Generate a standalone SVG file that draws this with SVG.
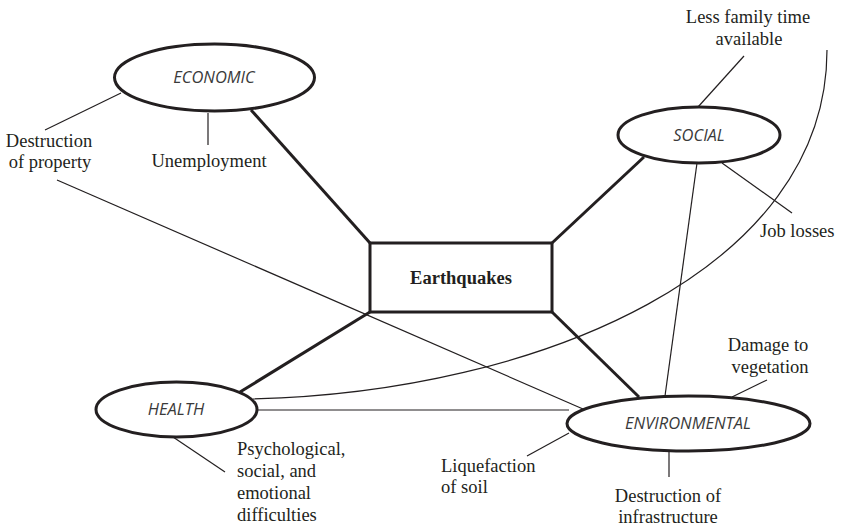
<svg xmlns="http://www.w3.org/2000/svg" width="842" height="526" viewBox="0 0 842 526">
<style>
.thick{stroke:#231f20;stroke-width:3;fill:none}
.thin{stroke:#231f20;stroke-width:1.2;fill:none}
.node{stroke:#231f20;stroke-width:3;fill:#fff}
.lbl{font-family:"Liberation Serif","Times New Roman",serif;font-size:18.5px;fill:#231f20}
.cat{font-family:"Open Sans","Noto Sans",sans-serif;font-style:italic;font-size:16.5px;fill:#3a3a3a;text-anchor:middle}
.mid{text-anchor:middle}
</style>
<rect width="842" height="526" fill="#fff"/>
<g id="connectors">
<path class="thin" d="M253,399 C540,392 827,270 827,50"/>
<line class="thin" x1="57" y1="180" x2="583" y2="409"/>
<line class="thin" x1="257" y1="410" x2="569" y2="410"/>
<line class="thin" x1="697" y1="163" x2="665" y2="396"/>
<line class="thick" x1="251" y1="110" x2="370" y2="243"/>
<line class="thick" x1="644" y1="157" x2="552" y2="243"/>
<line class="thick" x1="370" y1="312" x2="240" y2="392"/>
<line class="thick" x1="552" y1="312" x2="639" y2="397"/>
<line class="thin" x1="121" y1="93" x2="45" y2="130"/>
<line class="thin" x1="208" y1="113" x2="208" y2="145"/>
<line class="thin" x1="698" y1="107" x2="744" y2="56"/>
<line class="thin" x1="722" y1="163" x2="792" y2="213"/>
<line class="thin" x1="173" y1="437" x2="225" y2="472"/>
<line class="thin" x1="732" y1="397" x2="767" y2="380"/>
<line class="thin" x1="569" y1="433" x2="527" y2="456"/>
<line class="thin" x1="669" y1="451" x2="669" y2="477"/>
</g>
<g id="earthquakes">
<rect class="node" x="370" y="243" width="182" height="69"/>
<text class="lbl mid" x="461" y="284" font-weight="bold">Earthquakes</text>
</g>
<g id="economic">
<ellipse class="node" cx="214.5" cy="77.5" rx="100" ry="33.5"/>
<text class="cat" x="214" y="83">ECONOMIC</text>
</g>
<g id="social">
<ellipse class="node" cx="699" cy="135" rx="81" ry="28"/>
<text class="cat" x="699" y="141">SOCIAL</text>
</g>
<g id="health">
<ellipse class="node" cx="176.5" cy="409.5" rx="80.5" ry="27.5"/>
<text class="cat" x="176" y="415">HEALTH</text>
</g>
<g id="environmental">
<ellipse class="node" cx="688.5" cy="423.5" rx="121.5" ry="27.5"/>
<text class="cat" x="688" y="429">ENVIRONMENTAL</text>
</g>
<g id="destruction-property">
<text class="lbl mid" x="49" y="147">Destruction</text>
<text class="lbl mid" x="50" y="168">of property</text>
</g>
<g id="unemployment">
<text class="lbl mid" x="209" y="167">Unemployment</text>
</g>
<g id="less-family-time">
<text class="lbl mid" x="748" y="23">Less family time</text>
<text class="lbl mid" x="749" y="45">available</text>
</g>
<g id="job-losses">
<text class="lbl" x="760" y="237">Job losses</text>
</g>
<g id="psychological">
<text class="lbl" x="237" y="455">Psychological,</text>
<text class="lbl" x="237" y="477">social, and</text>
<text class="lbl" x="237" y="499">emotional</text>
<text class="lbl" x="237" y="521">difficulties</text>
</g>
<g id="damage-vegetation">
<text class="lbl mid" x="768" y="351">Damage to</text>
<text class="lbl mid" x="770" y="373">vegetation</text>
</g>
<g id="liquefaction">
<text class="lbl" x="441" y="472">Liquefaction</text>
<text class="lbl" x="441" y="493">of soil</text>
</g>
<g id="destruction-infrastructure">
<text class="lbl mid" x="668" y="502">Destruction of</text>
<text class="lbl mid" x="668" y="523">infrastructure</text>
</g>
</svg>
